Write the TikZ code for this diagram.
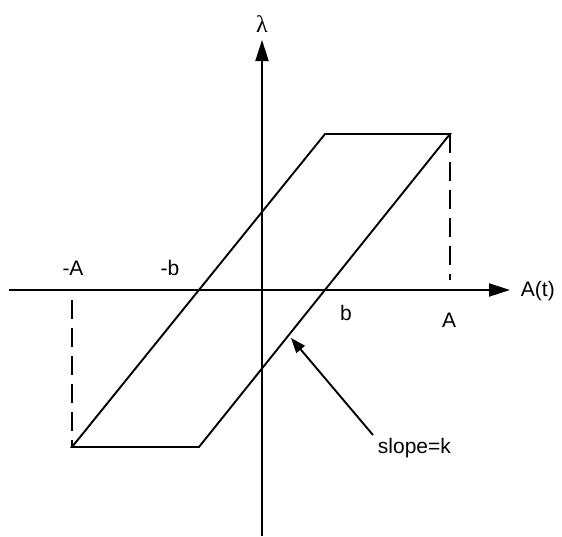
\documentclass[tikz,border=0pt]{standalone}
\usepackage{fontspec}
\setmainfont{Liberation Sans}
\newfontfamily\greekfont{Liberation Serif}
\usetikzlibrary{arrows.meta}

\begin{document}
\begin{tikzpicture}[x=1pt,y=-1pt,line width=1.9pt,
    axis/.style={-{Triangle[length=21pt,width=13pt]}},
    pointer/.style={-{Triangle[length=15pt,width=11pt]}},
    dropline/.style={dash pattern=on 19pt off 9pt},
    lbl/.style={font=\fontsize{21}{24}\selectfont, inner sep=0pt}]
  \useasboundingbox (0,0) rectangle (562,536);
  % axes
  \coordinate (xl) at (9,290);
  \coordinate (xr) at (510,290);
  \coordinate (yb) at (262,536);
  \coordinate (yt) at (262,40);
  \draw[axis] (xl) -- (xr);
  \draw[axis] (yb) -- (yt);
  % hysteresis loop
  \coordinate (tl) at (325,134);
  \coordinate (tr) at (450,134);
  \coordinate (bl) at (72,447);
  \coordinate (br) at (199,447);
  \draw (bl) -- (tl) -- (tr) -- (br) -- cycle;
  \coordinate (footA) at (450,280);
  \coordinate (footmA) at (72,300);
  \draw[dropline] (tr) -- (footA);
  \draw[dropline] (footmA) -- (bl);
  % labels
  \node[lbl] (lam) at (262,24) {\greekfont\fontsize{24}{26}\selectfont λ};
  \node[lbl, anchor=west] (at) at (520,291) {A(t)};
  \node[lbl] (mA) at (73,268) {-A};
  \node[lbl] (mb) at (170,268) {-b};
  \node[lbl] (pb) at (346,313) {b};
  \node[lbl] (pA) at (449,320) {A};
  \node[lbl, anchor=west] (slope) at (377,448) {slope=k};
  \coordinate (tail) at (373,435);
  \coordinate (hit) at (291,338);
  \draw[pointer] (tail) -- (hit);
\end{tikzpicture}
\end{document}
